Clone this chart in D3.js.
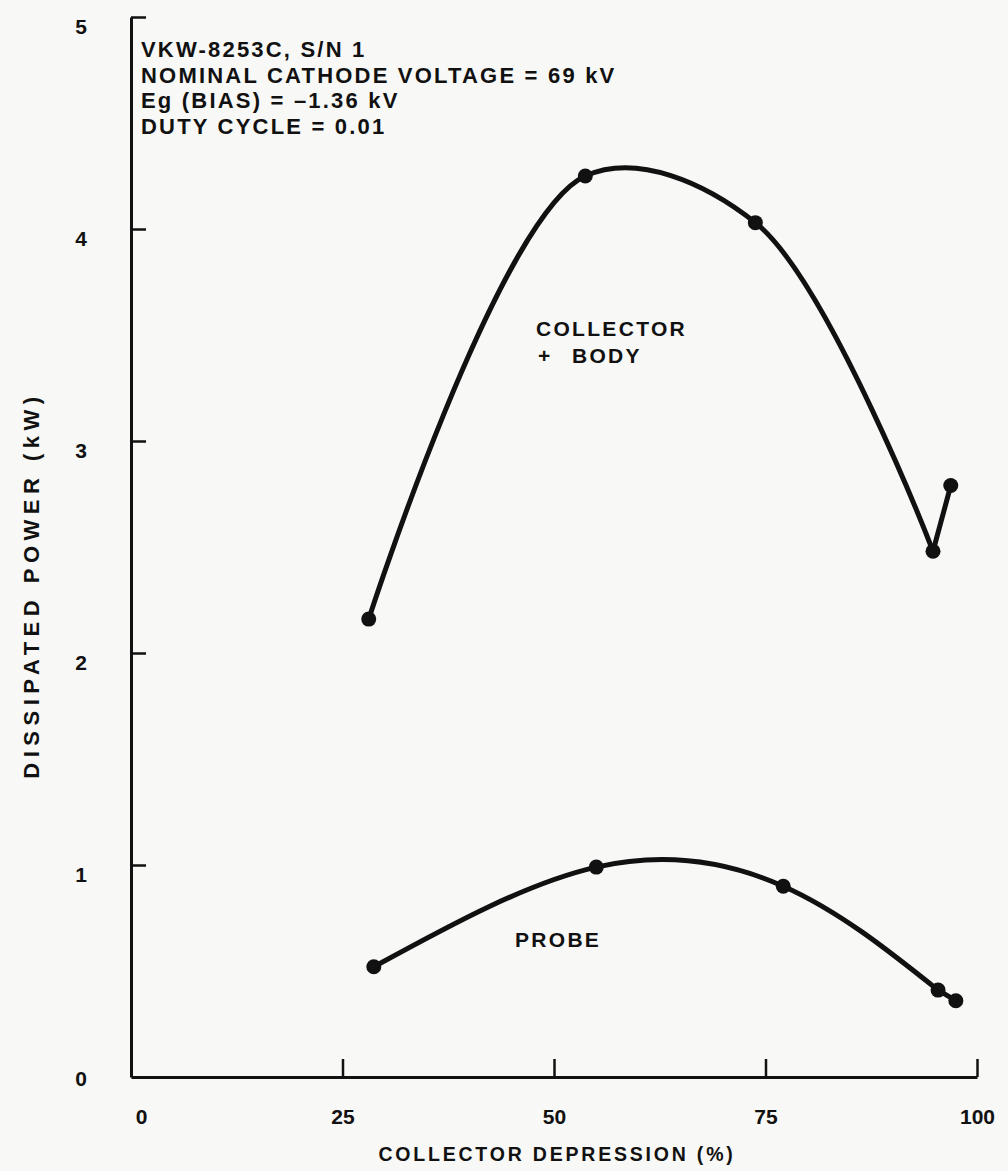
<!DOCTYPE html>
<html lang="en">
<head>
<meta charset="UTF-8">
<title>Dissipated power vs collector depression</title>
<script src="https://d3js.org/d3.v7.min.js"></script>
<style>
  body { margin: 0; background: #f8f8f6; }
  svg { display: block; font-family: "Liberation Sans", Arial, sans-serif; font-weight: bold; }
  text { fill: #111; }
</style>
</head>
<body>
<div id="chart"></div>
<script>
  const w = 1008, h = 1171;

  // values: collector depression (%) vs dissipated power (kW)
  const collectorDepression = [28.1, 53.7, 73.8, 94.8, 96.9];
  const collectorBodyPower = [2.16, 4.25, 4.03, 2.48, 2.79];
  const probeDepression = [28.7, 55.0, 77.1, 95.4, 97.5];
  const probePower = [0.52, 0.99, 0.90, 0.41, 0.36];

  const xTicks = [0, 25, 50, 75, 100];
  const yTicks = [0, 1, 2, 3, 4, 5];
  const notes = ["VKW-8253C, S/N 1", "NOMINAL CATHODE VOLTAGE = 69 kV", "Eg (BIAS) = \u20131.36 kV", "DUTY CYCLE = 0.01"];

  const x = d3.scaleLinear().domain([0, 100]).range([131, 977]);
  const y = d3.scaleLinear().domain([0, 5]).range([1077, 17]);

  const svg = d3.select("#chart").append("svg")
    .attr("width", w)
    .attr("height", h);

  // x axis, ticks pointing up
  const xAxis = svg.append("g")
    .attr("transform", `translate(0,${y(0)})`)
    .call(d3.axisBottom(x).tickValues(xTicks).tickFormat(d3.format("d"))
      .tickSize(-18).tickSizeOuter(0).tickPadding(32));
  xAxis.selectAll("text")
    .style("font-size", "21px")
    .attr("dx", (d) => d === 0 ? 10 : 0);

  // y axis, ticks pointing right, labels sit a bit under their tick
  const yAxis = svg.append("g")
    .attr("transform", `translate(${x(0)},0)`)
    .call(d3.axisLeft(y).tickValues(yTicks).tickFormat(d3.format("d"))
      .tickSize(-15).tickSizeOuter(0).tickPadding(50));
  yAxis.selectAll("text")
    .style("font-size", "21px")
    .attr("text-anchor", "middle")
    .attr("y", (d) => d === 0 ? 2 : 10);
  yAxis.selectAll(".tick").filter((d) => d === 0).select("line").remove();
  xAxis.selectAll(".tick").filter((d) => d === 0).select("line").remove();

  svg.selectAll(".domain").attr("stroke", "#111").attr("stroke-width", 3);
  svg.selectAll(".tick line").attr("stroke", "#111").attr("stroke-width", 2.5);

  // axis titles
  svg.append("text")
    .attr("x", 557)
    .attr("y", 1161)
    .attr("text-anchor", "middle")
    .style("font-size", "19.5px")
    .style("letter-spacing", "2.8px")
    .text("COLLECTOR DEPRESSION (%)");

  svg.append("text")
    .attr("transform", "translate(39,585) rotate(-90)")
    .attr("text-anchor", "middle")
    .style("font-size", "22px")
    .style("letter-spacing", "5.5px")
    .text("DISSIPATED POWER (kW)");

  // header notes
  svg.append("g").selectAll("text")
    .data(notes)
    .enter()
    .append("text")
    .attr("x", 141)
    .attr("y", (d, i) => 57 + i * 25.5)
    .style("font-size", "22px")
    .style("letter-spacing", "2.2px")
    .text((d) => d);

  // hand-drawn fair curves: centripetal catmull-rom for the collector, natural for the probe
  const collectorLine = d3.line()
    .x((d) => x(d[0]))
    .y((d) => y(d[1]))
    .curve(d3.curveCatmullRom.alpha(0.5));
  const probeLine = d3.line()
    .x((d) => x(d[0]))
    .y((d) => y(d[1]))
    .curve(d3.curveNatural);
  const straight = d3.line()
    .x((d) => x(d[0]))
    .y((d) => y(d[1]));

  function drawSeries(xs, ys, smooth) {
    const pts = xs.map((v, i) => [v, ys[i]]);
    const g = svg.append("g");
    // smooth through the first four points, last pair joined straight
    g.append("path")
      .attr("d", smooth(pts.slice(0, 4)))
      .attr("fill", "none")
      .attr("stroke", "#111")
      .attr("stroke-width", 5)
      .attr("stroke-linecap", "round");
    g.append("path")
      .attr("d", straight(pts.slice(3)))
      .attr("fill", "none")
      .attr("stroke", "#111")
      .attr("stroke-width", 5)
      .attr("stroke-linecap", "round");
    g.selectAll("circle")
      .data(pts)
      .enter()
      .append("circle")
      .attr("cx", (d) => x(d[0]))
      .attr("cy", (d) => y(d[1]))
      .attr("r", 7.5)
      .attr("fill", "#111");
  }

  drawSeries(collectorDepression, collectorBodyPower, collectorLine);
  drawSeries(probeDepression, probePower, probeLine);

  // curve labels
  const labels = svg.append("g")
    .style("font-size", "21px")
    .style("letter-spacing", "2.3px");
  labels.append("text").attr("x", 536).attr("y", 336).text("COLLECTOR");
  labels.append("text").attr("x", 538).attr("y", 363).text("+");
  labels.append("text").attr("x", 572).attr("y", 363).text("BODY");
  labels.append("text").attr("x", 515).attr("y", 947).text("PROBE");
</script>
</body>
</html>
